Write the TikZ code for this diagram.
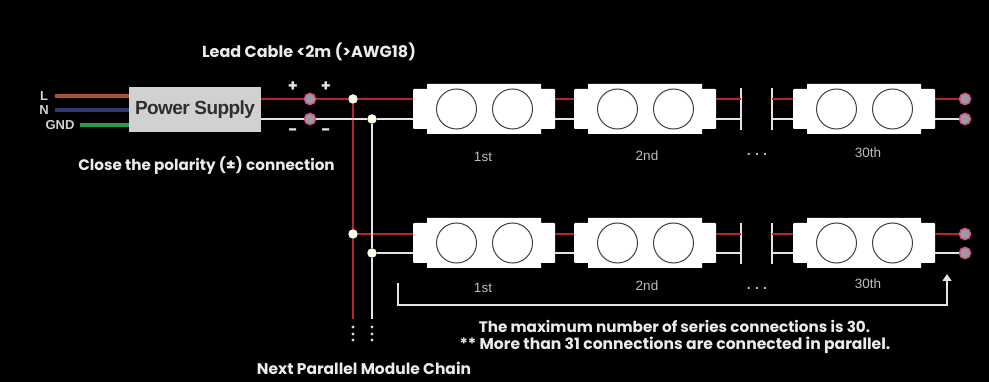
\documentclass[tikz,border=0pt]{standalone}
\usepackage{fontspec}
\setmainfont{Poppins}
\newfontfamily\arialfont{Liberation Sans}
\usepackage{xcolor}
\usetikzlibrary{arrows.meta,shapes.misc}
\definecolor{wirered}{HTML}{B3262C}
\definecolor{wirewhite}{HTML}{E4E4E4}
\definecolor{termpink}{HTML}{D0588C}
\definecolor{termgray}{HTML}{9C9CA4}
\definecolor{txtgray}{HTML}{BEBEBE}
\definecolor{wirel}{HTML}{A8503A}
\definecolor{wiren}{HTML}{2F3A78}
\definecolor{wireg}{HTML}{2F9A4C}
\tikzset{
  box part/.style={draw=none, fill=white, rounded corners=1pt, inner sep=0pt},
  wide part/.style={chamfered rectangle, chamfered rectangle corners={north west,north east,south west,south east}, chamfered rectangle xsep=4pt, chamfered rectangle ysep=4pt, draw=none, fill=white, inner sep=0pt},
  lens/.style={circle, draw=black!75, line width=1pt, fill=white, minimum size=40pt, inner sep=0pt},
  terminal/.style={circle, draw=termpink, line width=1.6pt, fill=termgray, minimum size=11pt, inner sep=0pt},
  junction/.style={circle, fill=white!92!yellow, minimum size=9.5pt, inner sep=0pt},
  red wire/.style={draw=wirered, line width=1.9pt},
  white wire/.style={draw=wirewhite, line width=1.9pt},
  bar/.style={draw=wirewhite, line width=1.8pt},
  caption/.style={text=white!92!black, font=\fontsize{15.2}{17}\selectfont\bfseries, inner sep=0pt},
  order/.style={text=txtgray, font=\arialfont\fontsize{13.5}{15}\selectfont, inner sep=0pt},
  gapdots/.style={text=txtgray, font=\arialfont\fontsize{14}{15}\selectfont\bfseries\addfontfeature{LetterSpace=30}, inner sep=0pt},
  sign/.style={text=white!90!black, font=\fontsize{16}{17}\selectfont\bfseries, inner sep=0pt},
  inlabel/.style={text=white!82!black, font=\arialfont\fontsize{13}{14}\selectfont\bfseries, inner sep=0pt},
  vdot/.style={circle, fill=white!85!black, minimum size=3.4pt, inner sep=0pt}
}
% module: name, left edge, top of wide part, red wire y, white wire y
\newcommand{\ledmodule}[5]{
  \node[box part, minimum width=142pt, minimum height=40pt] (#1) at (#2+71,#3+25) {};
  \node[wide part, minimum width=114pt, minimum height=50pt] (#1w) at (#2+71,#3+25) {};
  \node[lens] (#1a) at (#2+43.5,#3+25) {};
  \node[lens] (#1b) at (#2+99.5,#3+25) {};
  \coordinate (#1rl) at (#2,#4);
  \coordinate (#1wl) at (#2,#5);
  \coordinate (#1rr) at (#2+142,#4);
  \coordinate (#1wr) at (#2+142,#5);
}
\begin{document}
\begin{tikzpicture}[x=1pt, y=-1pt]
\fill[black] (0,0) rectangle (989,382);
\useasboundingbox (0,0) rectangle (989,382);

\node[caption, font=\fontsize{16}{18}\selectfont\bfseries] (lead) at (309,52) {Lead Cable <2m (>AWG18)};
\node[caption] (close) at (206.5,166) {Close the polarity (±) connection};
\node[caption] (maxnum) at (674.5,326) {The maximum number of series connections is 30.};
\node[caption, font=\fontsize{15.6}{17}\selectfont\bfseries] (more) at (675,345) {** More than 31 connections are connected in parallel.};
\node[caption, font=\fontsize{15.5}{17}\selectfont\bfseries] (next) at (364,368) {Next Parallel Module Chain};

% power supply
\node[draw=none, fill=white!82!black, minimum width=132pt, minimum height=45pt, inner sep=0pt] (psu) at (195,109.5) {};
\node[text=black!82, font=\arialfont\fontsize{19}{21}\selectfont\bfseries, inner sep=0pt] (psutxt) at (195,110) {\addfontfeature{LetterSpace=-3}Power Supply};
\node[inlabel] (l) at (44,96) {L};
\node[inlabel] (n) at (44,110) {N};
\node[inlabel] (gnd) at (60,125) {GND};
\coordinate (lin) at (55,96);
\coordinate (nin) at (55,110);
\coordinate (gin) at (80,125);
\draw[line width=3.6pt, draw=wirel] (lin) -- (lin -| psu.west);
\draw[line width=3.6pt, draw=wiren] (nin) -- (nin -| psu.west);
\draw[line width=3.6pt, draw=wireg] (gin) -- (gin -| psu.west);

% modules
\ledmodule{ma}{413}{84}{99}{119}
\ledmodule{mb}{574}{84}{99}{119}
\ledmodule{mc}{793}{84}{99}{119}
\ledmodule{md}{413}{218}{234}{253}
\ledmodule{me}{574}{218}{234}{253}
\ledmodule{mf}{793}{218}{234}{253}

% terminals and junctions
\node[terminal] (t1) at (310,99) {};
\node[terminal] (t2) at (310,119) {};
\node[terminal] (e1) at (965,99) {};
\node[terminal] (e2) at (965,119) {};
\node[terminal] (e3) at (965,234) {};
\node[terminal] (e4) at (965,253) {};
\node[junction] (j1) at (353,99) {};
\node[junction] (j2) at (372,119) {};
\node[junction] (j3) at (353,234) {};
\node[junction] (j4) at (372,253) {};
\coordinate (psr) at (261,99);
\coordinate (psw) at (261,119);
\coordinate (rend) at (353,319);
\coordinate (wend) at (372,319);

% break bars
\coordinate (b1t) at (741,88);  \coordinate (b1b) at (741,130);
\coordinate (b2t) at (772,88);  \coordinate (b2b) at (772,130);
\coordinate (b3t) at (741,223); \coordinate (b3b) at (741,264);
\coordinate (b4t) at (772,223); \coordinate (b4b) at (772,264);
\coordinate (b1r) at (741,99);  \coordinate (b1w) at (741,119);
\coordinate (b2r) at (772,99);  \coordinate (b2w) at (772,119);
\coordinate (b3r) at (741,234); \coordinate (b3w) at (741,253);
\coordinate (b4r) at (772,234); \coordinate (b4w) at (772,253);
\path[bar] (b1t) edge (b1b) (b2t) edge (b2b) (b3t) edge (b3b) (b4t) edge (b4b);

\path[red wire]
(psr) edge (t1)
(t1) edge (j1)
(j1) edge (marl)
(j1) edge (j3)
(j3) edge (rend)
(j3) edge (mdrl)
(marr) edge (mbrl)
(mdrr) edge (merl)
(mbrr) edge (b1r)
(b2r) edge (mcrl)
(merr) edge (b3r)
(b4r) edge (mfrl)
(mcrr) edge (e1)
(mfrr) edge (e3);
\path[white wire]
(psw) edge (t2)
(t2) edge (j2)
(j2) edge (mawl)
(j2) edge (j4)
(j4) edge (wend)
(j4) edge (mdwl)
(mawr) edge (mbwl)
(mdwr) edge (mewl)
(mbwr) edge (b1w)
(b2w) edge (mcwl)
(mewr) edge (b3w)
(b4w) edge (mfwl)
(mcwr) edge (e2)
(mfwr) edge (e4);

% labels
\node[order] (o1) at (483,157) {1st};
\node[order] (o2) at (647,156) {2nd};
\node[order] (o3) at (868,153) {30th};
\node[order] (o4) at (483,288) {1st};
\node[order] (o5) at (647,286) {2nd};
\node[order] (o6) at (868,284) {30th};
\node[gapdots] (d1) at (757,154) {...};
\node[gapdots] (d2) at (757,288) {...};

\node[sign] (p1) at (293,87) {+};
\node[sign] (p2) at (326,87) {+};
\node[sign] (m1) at (293,132) {-};
\node[sign] (m2) at (326,132) {-};

% dots under the rails
\foreach \yy [count=\i] in {327,334,340}{
  \node[vdot] (ra\i) at (353,\yy) {};
  \node[vdot] (wa\i) at (372,\yy) {};
}

% range arrow
\coordinate (rs) at (398,283);
\coordinate (rt) at (947,274);
\coordinate (rc) at (398,305);
\draw[draw=wirewhite, line width=1.5pt, -{Triangle[length=7pt,width=9pt]}] (rs) -- (rc) -| (rt);
\end{tikzpicture}
\end{document}
